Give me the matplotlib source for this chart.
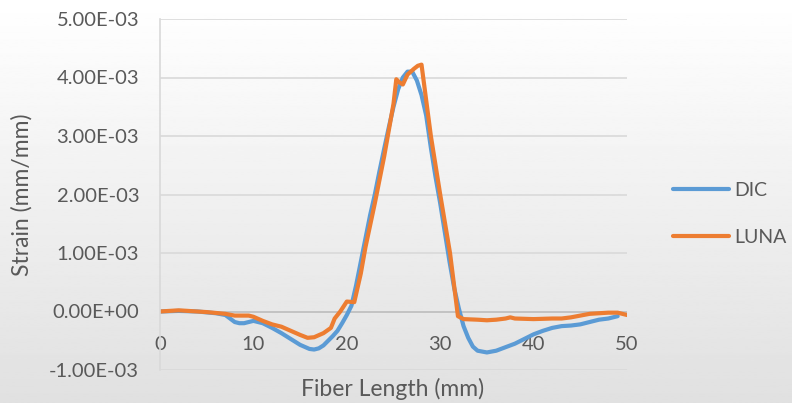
import numpy as np
import matplotlib
matplotlib.use("Agg")
import matplotlib.pyplot as plt

plt.rcParams['font.family'] = ['Lato', 'DejaVu Sans']

# Strain profiles along the fiber (x in mm, strain in 1e-3 mm/mm)
dic_x = [0, 2, 4, 6, 7, 7.5, 8, 8.5, 9, 10, 11, 12, 13, 14, 15, 16, 16.5, 17,
         17.5, 18, 18.5, 19, 19.5, 20, 20.5, 21, 21.5, 22, 22.5, 23, 23.5, 24,
         24.5, 25, 25.5, 26, 26.5, 27, 27.5, 28, 28.5, 29, 29.5, 30, 30.5, 31,
         31.5, 32, 32.5, 33, 33.5, 34, 35, 36, 37, 38, 39, 40, 41, 42, 43, 44,
         45, 46, 47, 48, 49]
dic_y = [0.0, 0.01, 0.0, -0.03, -0.06, -0.12, -0.18, -0.2, -0.2, -0.16, -0.2,
         -0.28, -0.37, -0.47, -0.57, -0.64, -0.65, -0.63, -0.58, -0.5, -0.42,
         -0.33, -0.2, -0.06, 0.1, 0.45, 0.85, 1.25, 1.65, 2.0, 2.4, 2.78, 3.15,
         3.5, 3.8, 4.0, 4.1, 4.1, 3.95, 3.7, 3.35, 2.8, 2.3, 1.85, 1.35, 0.85,
         0.4, 0.05, -0.25, -0.45, -0.6, -0.67, -0.7, -0.67, -0.61, -0.55, -0.47,
         -0.39, -0.33, -0.28, -0.25, -0.24, -0.22, -0.18, -0.14, -0.12, -0.08]

luna_x = [0, 2, 3, 5, 7, 8, 9.5, 10, 11, 12, 13, 14, 15, 15.8, 16.5, 17.5,
          18.3, 18.7, 19.3, 20, 20.8, 21.5, 22, 23, 24, 25, 25.3, 25.6, 26.0,
          26.5, 27.2, 27.6, 28.0, 29.0, 30.0, 31.05, 31.9, 32.5, 34, 35, 36,
          37, 37.5, 38, 40, 42, 43, 44, 45, 46, 47, 48, 49, 50]
luna_y = [0.0, 0.02, 0.01, -0.01, -0.04, -0.07, -0.07, -0.09, -0.16, -0.22,
          -0.26, -0.33, -0.4, -0.45, -0.44, -0.37, -0.28, -0.12, 0.0, 0.17,
          0.16, 0.65, 1.1, 1.85, 2.65, 3.55, 3.97, 3.92, 3.88, 4.05, 4.15, 4.2,
          4.22, 3.0, 2.0, 1.0, -0.08, -0.13, -0.14, -0.15, -0.14, -0.12, -0.1,
          -0.12, -0.13, -0.12, -0.12, -0.1, -0.07, -0.04, -0.03, -0.02, -0.02,
          -0.06]

series_names = ["DIC", "LUNA"]
series_colors = ["#5B9BD5", "#ED7D31"]
y_ticks = [-1e-3, 0, 1e-3, 2e-3, 3e-3, 4e-3, 5e-3]
y_tick_labels = ["-1.00E-03", "0.00E+00", "1.00E-03", "2.00E-03",
                 "3.00E-03", "4.00E-03", "5.00E-03"]
x_ticks = [0, 10, 20, 30, 40, 50]

text_color = "#595959"

fig = plt.figure(figsize=(7.92, 4.03), dpi=100)

# soft vertical background shading
bg = fig.add_axes([0, 0, 1, 1], zorder=-10)
grad = np.linspace(1.0, 0.88, 256).reshape(-1, 1)
bg.imshow(grad, cmap="gray", vmin=0, vmax=1, aspect="auto",
          extent=[0, 1, 0, 1], origin="upper")
bg.set_axis_off()

ax = fig.add_axes([160 / 792, 1 - 370 / 403, 467 / 792, 351 / 403])
ax.set_facecolor("none")

dic_strain = np.array(dic_y) * 1e-3
luna_strain = np.array(luna_y) * 1e-3
ax.plot(dic_x, dic_strain, color=series_colors[0], lw=3.0,
        solid_capstyle="round", solid_joinstyle="round", label=series_names[0])
ax.plot(luna_x, luna_strain, color=series_colors[1], lw=3.0,
        solid_capstyle="round", solid_joinstyle="round", label=series_names[1])

ax.set_xlim(0, 50)
ax.set_ylim(-1e-3, 5e-3)
ax.set_yticks(y_ticks)
ax.set_yticklabels(y_tick_labels)
ax.set_xticks(x_ticks)
ax.set_xticklabels([str(t) for t in x_ticks])

ax.grid(axis="y", color="#d9d9d9", lw=1.2)
ax.set_axisbelow(True)
for s in ["top", "right", "bottom"]:
    ax.spines[s].set_visible(False)
ax.spines["left"].set_color("#d9d9d9")
ax.spines["left"].set_linewidth(1.2)
ax.axhline(0, color="#bfbfbf", lw=1.2, zorder=1)

# x labels sit just under the zero line
ax.spines["bottom"].set_position(("data", 0))
ax.tick_params(axis="both", length=0, labelsize=14.5, colors=text_color)
ax.tick_params(axis="y", pad=15)
ax.tick_params(axis="x", pad=17.5)

fig.text(22 / 792, 1 - 195 / 403, "Strain (mm/mm)", fontsize=16.5,
         color=text_color, ha="center", va="center", rotation=90)
fig.text(393 / 792, 1 - 389 / 403, "Fiber Length (mm)", fontsize=16.5,
         color=text_color, ha="center", va="center")

leg = fig.legend(loc="center left", bbox_to_anchor=(673 / 792, 1 - 214 / 403),
                 frameon=False, fontsize=14, labelcolor=text_color,
                 handlelength=2.9, handletextpad=0.25, labelspacing=1.55,
                 borderaxespad=0, borderpad=0)

fig.savefig("out.png", dpi=100)
